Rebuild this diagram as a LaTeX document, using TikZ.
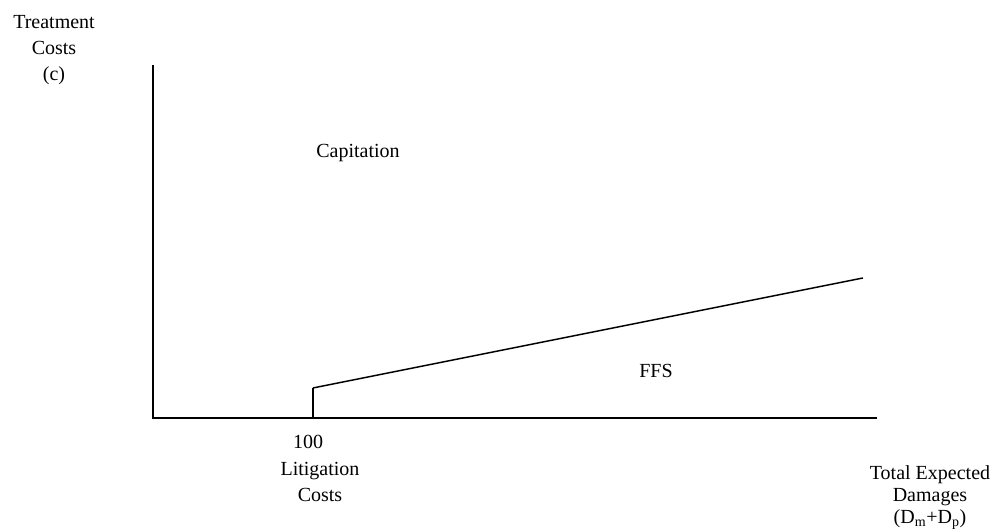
\documentclass[tikz,border=0pt]{standalone}
\usepackage{fontspec}
\setmainfont{Liberation Serif}
\usetikzlibrary{positioning}
\tikzset{
    axis/.style={line width=0.8pt},
    costline/.style={line width=1.1pt},
    lbl/.style={font=\fontsize{15}{19.5}\selectfont,inner sep=0pt,align=center,anchor=base}
}
\begin{document}
\begin{tikzpicture}[x=0.75pt,y=-0.75pt]
    \useasboundingbox (0,0) rectangle (997,530);

    % axes and the cost line
    \coordinate (origin)  at (153,418);
    \coordinate (ytop)    at (153,65);
    \coordinate (xend)    at (877,418);
    \coordinate (litfoot) at (313,418);
    \coordinate (littop)  at (313,388);
    \coordinate (lineend) at (863,278);

    \draw[axis] (ytop) -- (origin) -- (xend);
    \draw[axis] (litfoot) -- (littop);
    \draw[costline] (littop) -- (lineend);

    % labels (base = last line)
    \node[lbl] (ylabel)  at (54,81)   {Treatment\\Costs\\(c)};
    \node[lbl] (capit)   at (358,158) {Capitation};
    \node[lbl] (ffs)     at (656,378) {FFS};
    \node[lbl] (hundred) at (308,449) {100};
    \node[lbl] (litcost) at (320,502) {Litigation\\Costs};
    \node[lbl,font=\fontsize{15}{16.5}\selectfont] (xlabel) at (930,524)
        {Total Expected\\Damages\\(D\textsubscript{m}+D\textsubscript{p})};

\end{tikzpicture}
\end{document}
